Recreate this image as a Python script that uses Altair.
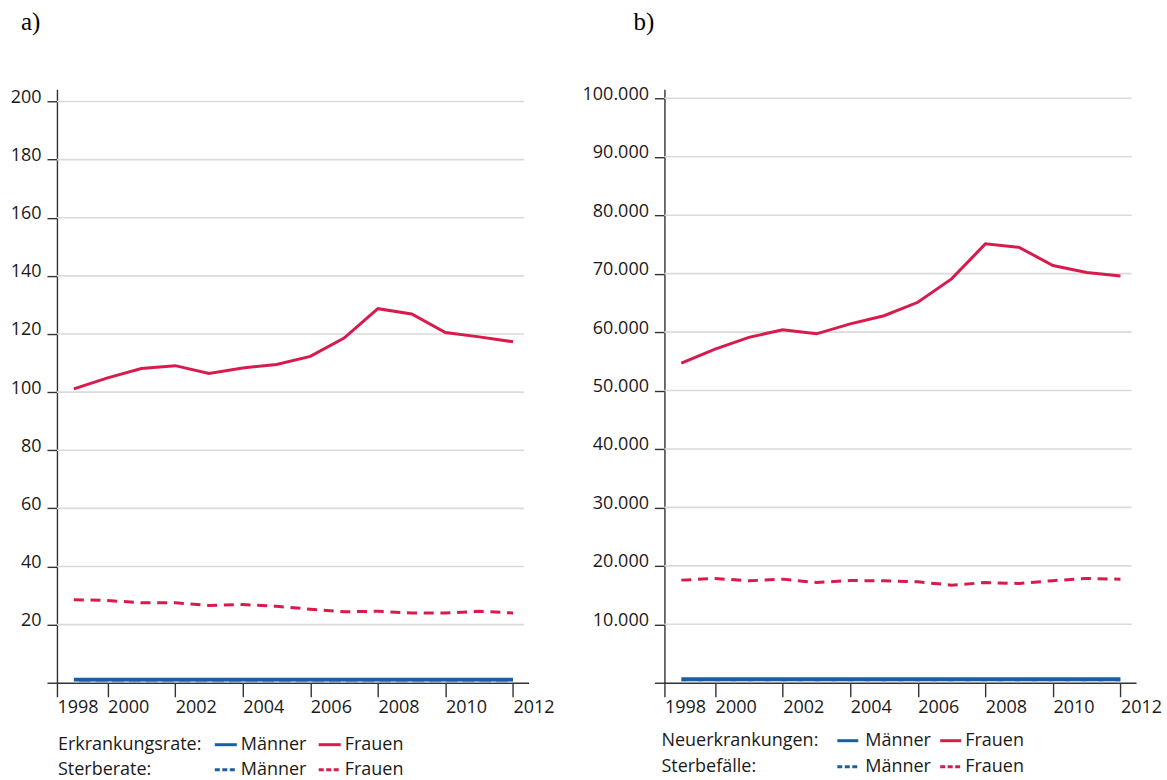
import altair as alt
import pandas as pd

# Years shown on both panels
years = list(range(1999, 2013))

# a) age-standardised rates per 100,000
rate_inc_f = [101.1, 104.9, 108.1, 109.1, 106.4, 108.3, 109.5, 112.3, 118.6, 128.7, 126.9, 120.5, 119.0, 117.3]
rate_mort_f = [28.6, 28.3, 27.5, 27.5, 26.6, 26.9, 26.3, 25.3, 24.4, 24.6, 24.0, 24.0, 24.6, 24.0]
rate_inc_m = [1.0, 1.0, 1.0, 1.0, 1.0, 1.0, 1.0, 1.0, 1.0, 1.0, 1.0, 1.0, 1.0, 1.0]
rate_mort_m = [0.3, 0.3, 0.3, 0.3, 0.3, 0.3, 0.3, 0.3, 0.3, 0.3, 0.3, 0.3, 0.3, 0.3]

# b) absolute numbers of new cases and deaths
cases_inc_f = [54700, 57100, 59100, 60400, 59700, 61400, 62800, 65100, 69100, 75100, 74500, 71400, 70200, 69600]
cases_mort_f = [17560, 17840, 17440, 17730, 17150, 17490, 17440, 17270, 16700, 17150, 16980, 17470, 17840, 17730]
cases_inc_m = [600, 600, 600, 600, 600, 600, 600, 600, 600, 600, 600, 600, 600, 600]
cases_mort_m = [190, 190, 190, 190, 190, 190, 190, 190, 190, 190, 190, 190, 190, 190]

# Axis ticks
x_ticks = [1998.5, 2000, 2002, 2004, 2006, 2008, 2010, 2012]
rate_ticks = [0, 20, 40, 60, 80, 100, 120, 140, 160, 180, 200]
case_ticks = [0, 10000, 20000, 30000, 40000, 50000, 60000, 70000, 80000, 90000, 100000]

# Legend texts
legend_rows_a = ["Erkrankungsrate:", "Sterberate:"]
legend_rows_b = ["Neuerkrankungen:", "Sterbefälle:"]
legend_sexes = ["Männer", "Frauen"]

RED = "#d81b4c"
BLUE = "#1b5ea8"
BLUE_DASH = "#a3b2c4"
GRID = "#dadada"
INK = "#1a1a1a"
FONT = "Open Sans"
FS = 18

W, H = 472, 594


def panel(inc_f, mort_f, inc_m, mort_m, y_ticks, y_top, y_label_expr,
          letter, row_labels, lg):
    x_scale = alt.Scale(domain=[1998.5, 2012.46], nice=False, zero=False)
    y_scale = alt.Scale(domain=[0, y_top], nice=False)
    x_axis = alt.Axis(
        values=x_ticks, title=None, grid=False,
        labelExpr="datum.value < 1999 ? '1998' : format(datum.value, 'd')",
        labelAlign="left", labelBaseline="top", labelPadding=2, tickSize=14,
    )
    y_axis = alt.Axis(
        values=y_ticks, title=None, grid=False, labelExpr=y_label_expr,
        labelBaseline="middle", labelOffset=-4, labelPadding=6, tickSize=10,
    )

    grid = alt.Chart(pd.DataFrame({"tick": y_ticks[1:]})).mark_rule(
        color=GRID, strokeWidth=1.6
    ).encode(
        y=alt.Y("tick:Q", scale=y_scale, axis=y_axis),
        x=alt.datum(1998.5),
        x2=alt.datum(2012.33),
    )

    def series(values, color, width, dash=None):
        df = pd.DataFrame({"year": years, "value": values})
        kw = dict(color=color, strokeWidth=width, clip=False)
        if dash is not None:
            kw["strokeDash"] = dash
        return alt.Chart(df).mark_line(**kw).encode(
            x=alt.X("year:Q", scale=x_scale, axis=x_axis),
            y=alt.Y("value:Q", scale=y_scale, axis=y_axis),
        )

    lines = [
        series(mort_f, RED, 3, [10, 6.7]),
        series(inc_f, RED, 3),
        series(inc_m, BLUE, 4),
        series(mort_m, BLUE_DASH, 1.5, [5, 11.7]),
    ]

    tag = alt.Chart(pd.DataFrame({"t": [letter]})).mark_text(
        font="Liberation Serif", fontSize=25, align="left", baseline="middle", color="#000000"
    ).encode(x=alt.value(lg["tag_x"]), y=alt.value(-67), text="t:N")

    legend = []
    for i, row in enumerate(row_labels):
        ry = lg["rows"][i]
        dash = None if i == 0 else [5, 2.5]
        legend.append(
            alt.Chart(pd.DataFrame({"t": [row]})).mark_text(
                font=FONT, fontSize=FS, align="left", baseline="middle", color=INK
            ).encode(x=alt.value(lg["label_x"]), y=alt.value(ry), text="t:N")
        )
        for j, sex in enumerate(legend_sexes):
            sx0, sx1, tx = lg["samples"][j]
            rule_kw = dict(color=BLUE if j == 0 else RED, strokeWidth=3)
            if dash is not None:
                rule_kw["strokeDash"] = dash
            legend.append(
                alt.Chart(pd.DataFrame({"t": [sex]})).mark_rule(**rule_kw).encode(
                    x=alt.value(sx0), x2=alt.value(sx1), y=alt.value(ry)
                )
            )
            legend.append(
                alt.Chart(pd.DataFrame({"t": [sex]})).mark_text(
                    font=FONT, fontSize=FS, align="left", baseline="middle", color=INK
                ).encode(x=alt.value(tx), y=alt.value(ry), text="t:N")
            )

    return alt.layer(grid, *lines, tag, *legend).properties(width=W, height=H)


left = panel(
    rate_inc_f, rate_mort_f, rate_inc_m, rate_mort_m,
    rate_ticks, 204.2,
    "datum.value == 0 ? '' : format(datum.value, 'd')",
    "a)", legend_rows_a,
    {"tag_x": -36, "label_x": 1, "rows": [656, 681],
     "samples": [(158, 180, 184), (262, 284, 288)]},
)

right = panel(
    cases_inc_f, cases_mort_f, cases_inc_m, cases_mort_m,
    case_ticks, 101550,
    "datum.value == 0 ? '' : replace(format(datum.value, ','), ',', '.')",
    "b)", legend_rows_b,
    {"tag_x": -31, "label_x": -3, "rows": [652, 678],
     "samples": [(173, 194, 201), (276, 297, 301)]},
)

chart = alt.hconcat(left, right, spacing=136, bounds="flush").properties(
    padding={"left": 10, "top": 10, "right": 5, "bottom": 5}
).configure_view(stroke=None).configure_axis(
    labelFont=FONT, labelFontSize=FS, labelColor=INK,
    domainColor="#333333", domainWidth=1.4, tickColor="#333333", tickWidth=1.4,
)

chart.save("out.html", embed_options={"renderer": "svg", "actions": False})
